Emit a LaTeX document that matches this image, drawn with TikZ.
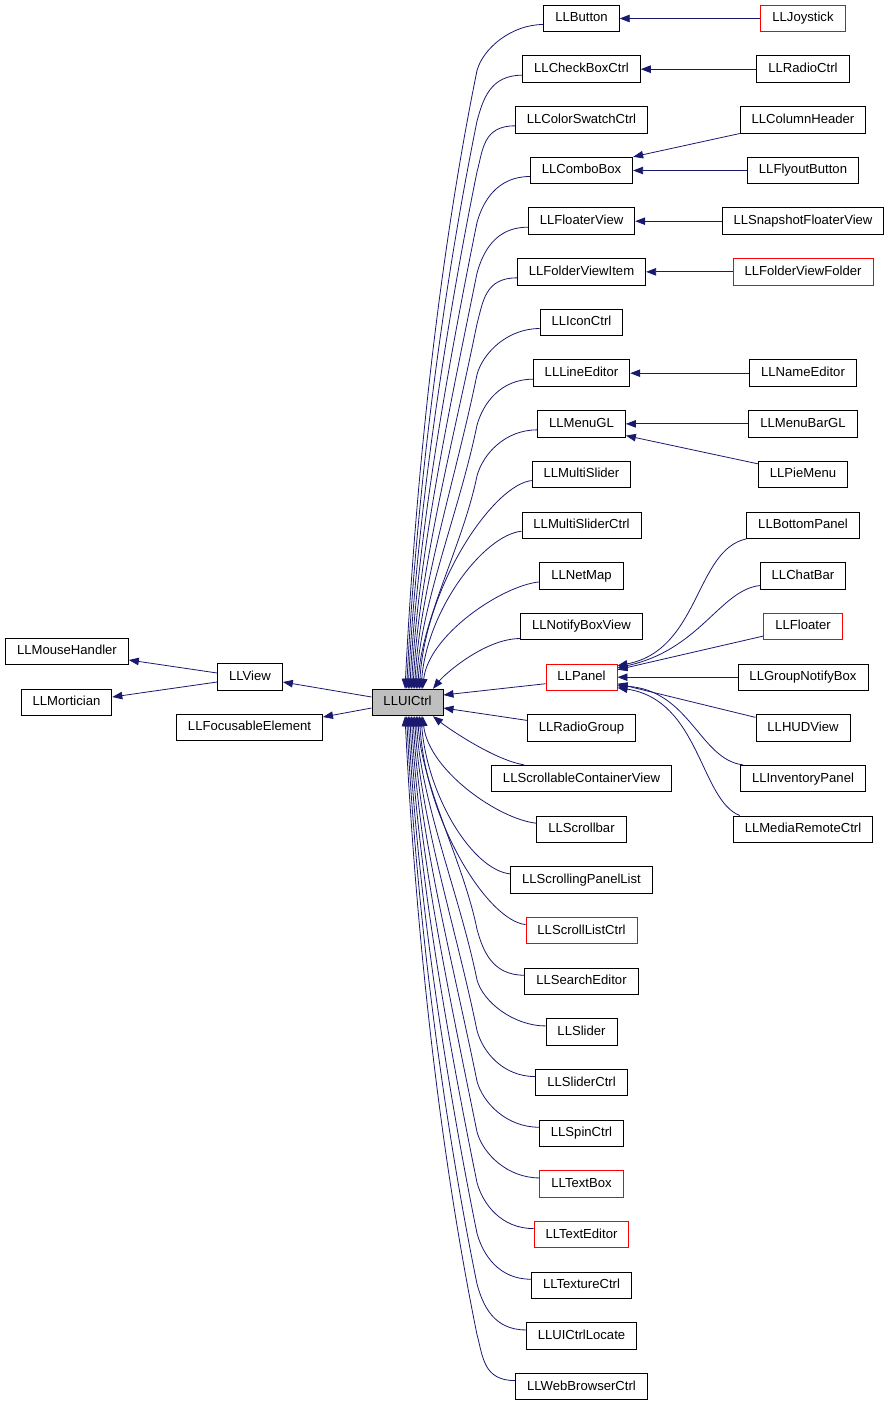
\documentclass[tikz,border=0pt]{standalone}
\usepackage{fontspec}
\setmainfont{Liberation Sans}
\usetikzlibrary{arrows.meta}
\definecolor{edgec}{HTML}{191970}
\definecolor{ctrlgray}{HTML}{BFBFBF}
\begin{document}
\begin{tikzpicture}[x=1pt,y=-1pt,
  box/.style={draw=black, line width=0.9pt, minimum height=26.5pt, inner xsep=11.5pt, inner ysep=0pt,
    text height=9.4pt, text depth=2.5pt,
    font=\fontsize{13.1}{15}\selectfont, fill=white},
  redbox/.style={box, draw=red},
  edge/.style={draw=edgec, line width=0.8pt, -{Triangle[length=10pt,width=7.5pt]}}]
\useasboundingbox (0,0) rectangle (891,1405);

% left part
\node[box, fill=ctrlgray] (uictrl) at (407.5,702.5) {LLUICtrl};
\node[box] (mouse) at (67,651.5) {LLMouseHandler};
\node[box] (mort) at (66.5,702.5) {LLMortician};
\node[box] (view) at (250,677) {LLView};
\node[box] (focus) at (249.5,727.5) {LLFocusableElement};

% middle column
\foreach \nm/\txt/\i/\st in {button/LLButton/0/box, checkbox/LLCheckBoxCtrl/1/box,
  colorswatch/LLColorSwatchCtrl/2/box, combobox/LLComboBox/3/box, floaterview/LLFloaterView/4/box,
  folderviewitem/LLFolderViewItem/5/box, iconctrl/LLIconCtrl/6/box, lineeditor/LLLineEditor/7/box,
  menugl/LLMenuGL/8/box, multislider/LLMultiSlider/9/box, multisliderctrl/LLMultiSliderCtrl/10/box,
  netmap/LLNetMap/11/box, notifyboxview/LLNotifyBoxView/12/box, panel/LLPanel/13/redbox,
  radiogroup/LLRadioGroup/14/box, scrollcontainer/LLScrollableContainerView/15/box,
  scrollbar/LLScrollbar/16/box, scrollingpanellist/LLScrollingPanelList/17/box,
  scrolllistctrl/LLScrollListCtrl/18/redbox, searcheditor/LLSearchEditor/19/box,
  slider/LLSlider/20/box, sliderctrl/LLSliderCtrl/21/box, spinctrl/LLSpinCtrl/22/box,
  textbox/LLTextBox/23/redbox, texteditor/LLTextEditor/24/redbox, texturectrl/LLTextureCtrl/25/box,
  uictrllocate/LLUICtrlLocate/26/box, webbrowser/LLWebBrowserCtrl/27/box}
  \node[\st] (\nm) at (581.5, 18.5+50.67*\i) {\txt};

% right column
\foreach \nm/\txt/\i/\st in {joystick/LLJoystick/0/redbox, radioctrl/LLRadioCtrl/1/box,
  columnheader/LLColumnHeader/2/box, flyoutbutton/LLFlyoutButton/3/box,
  snapshot/LLSnapshotFloaterView/4/box, folderviewfolder/LLFolderViewFolder/5/redbox,
  nameeditor/LLNameEditor/7/box, menubargl/LLMenuBarGL/8/box, piemenu/LLPieMenu/9/box,
  bottompanel/LLBottomPanel/10/box, chatbar/LLChatBar/11/box, floater/LLFloater/12/redbox,
  groupnotify/LLGroupNotifyBox/13/box, hudview/LLHUDView/14/box,
  inventorypanel/LLInventoryPanel/15/box, mediaremote/LLMediaRemoteCtrl/16/box}
  \node[\st] (\nm) at (803, 18.5+50.67*\i) {\txt};

% left edges
\draw[edge] ([yshift=4]view.west) -- ([yshift=-8.5]mouse.east);
\draw[edge] ([yshift=-5]view.west) -- ([yshift=5.5]mort.east);
\draw[edge] ([yshift=5.5]uictrl.west) -- ([yshift=-5]view.east);
\draw[edge] ([yshift=-5.5]uictrl.west) -- ([yshift=10.5]focus.east);

% right column edges
\draw[edge] (joystick) -- (button);
\draw[edge] (radioctrl) -- (checkbox);
\draw[edge] (columnheader.south west) -- (combobox.north east);
\draw[edge] (flyoutbutton) -- (combobox);
\draw[edge] (snapshot) -- (floaterview);
\draw[edge] (folderviewfolder) -- (folderviewitem);
\draw[edge] (nameeditor) -- (lineeditor);
\draw[edge] (menubargl) -- (menugl);
\draw[edge] ([yshift=-3]piemenu.north west) -- ([yshift=2]menugl.south east);

% LLPanel children
\draw[edge] (bottompanel.south west) .. controls (695,550) and (700,650) .. ([yshift=11.5]panel.east);
\draw[edge] ([yshift=4]chatbar.south west) .. controls (720,590) and (700,650) .. ([yshift=9.5]panel.east);
\draw[edge] ([yshift=-9.5]floater.west) -- ([yshift=7.5]panel.east);
\draw[edge] (groupnotify) -- (panel);
\draw[edge] ([yshift=10.5]hudview.west) -- ([yshift=-6.5]panel.east);
\draw[edge] ([xshift=3]inventorypanel.north west) .. controls (700,760) and (690,690) .. ([yshift=-8.5]panel.east);
\draw[edge] ([xshift=7]mediaremote.north west) .. controls (700,800) and (700,700) .. ([yshift=-10.5]panel.east);

% middle column to LLUICtrl: upper far
\foreach \nm/\i in {button/0,checkbox/1,colorswatch/2,combobox/3,floaterview/4,
  folderviewitem/5,iconctrl/6,lineeditor/7,menugl/8}{
  \pgfmathsetmacro\yc{18.5+50.67*\i}
  \pgfmathsetmacro\ex{-2.5+1.6*\i}
  \pgfmathsetmacro\ky{\yc+52}
  \pgfmathsetmacro\L{689-\ky}
  \draw[edge] ([yshift=-6]\nm.west) .. controls +(-32,0) and (483,\ky-22) .. (477,\ky)
    .. controls +(-0.065*\L,0.32*\L) and +(0.016*\L,-0.32*\L) .. ([xshift=\ex]uictrl.north);
}
% upper near
\foreach \nm/\i in {multislider/9,multisliderctrl/10,netmap/11}{
  \pgfmathsetmacro\yc{18.5+50.67*\i}
  \pgfmathsetmacro\ex{-2.5+1.6*\i}
  \pgfmathsetmacro\L{689-\yc-6}
  \draw[edge] ([yshift=-6]\nm.west) .. controls +(-38,4) and +(6,-0.5*\L) .. ([xshift=\ex]uictrl.north);
}
\draw[edge] ([yshift=-12]notifyboxview.west) .. controls +(-35,0) and +(12,-15) .. ([xshift=25.5]uictrl.north);
\draw[edge] ([yshift=-6.5]panel.west) -- ([yshift=7.5]uictrl.east);
\draw[edge] ([yshift=7.5]radiogroup.west) -- ([yshift=-5.5]uictrl.east);
\draw[edge] ([xshift=33]scrollcontainer.north west) .. controls +(-30,-5) and +(15,12) .. ([xshift=25.5]uictrl.south);
% lower near
\foreach \nm/\i in {scrollbar/16,scrollingpanellist/17,scrolllistctrl/18}{
  \pgfmathsetmacro\yc{18.5+50.67*\i}
  \pgfmathsetmacro\ex{-2.5+1.6*(27-\i)}
  \pgfmathsetmacro\L{\yc-6-715}
  \draw[edge] ([yshift=6]\nm.west) .. controls +(-38,-4) and +(6,0.5*\L) .. ([xshift=\ex]uictrl.south);
}
% lower far
\foreach \nm/\i in {searcheditor/19,slider/20,sliderctrl/21,spinctrl/22,textbox/23,
  texteditor/24,texturectrl/25,uictrllocate/26,webbrowser/27}{
  \pgfmathsetmacro\yc{18.5+50.67*\i}
  \pgfmathsetmacro\ex{-2.5+1.6*(27-\i)}
  \pgfmathsetmacro\ky{\yc-52}
  \pgfmathsetmacro\L{\ky-715}
  \draw[edge] ([yshift=6]\nm.west) .. controls +(-32,0) and (483,\ky+22) .. (477,\ky)
    .. controls +(-0.065*\L,-0.32*\L) and +(0.016*\L,0.32*\L) .. ([xshift=\ex]uictrl.south);
}
\end{tikzpicture}
\end{document}
